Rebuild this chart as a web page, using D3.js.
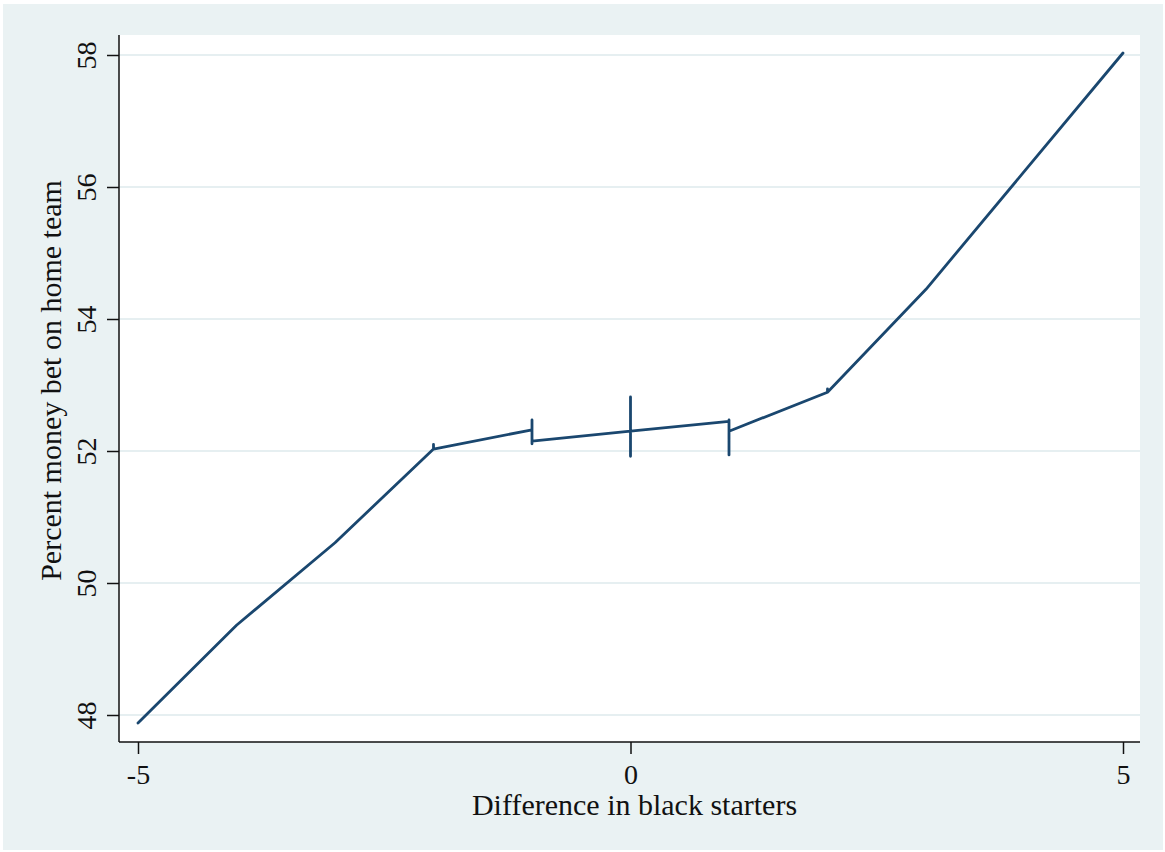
<!DOCTYPE html>
<html>
<head>
<meta charset="utf-8">
<script src="https://cdn.jsdelivr.net/npm/d3@7"></script>
<style>
  body { margin: 0; background: #fff; }
  svg { display: block; }
  text { font-family: "Liberation Serif", "DejaVu Serif", serif; fill: #111; }
</style>
</head>
<body>
<svg id="chart"></svg>
<script>
// Points in drawing order (several values at the same x give the vertical jumps)
const xValues = [-5, -4, -3, -2, -2, -2, -1, -1, -1, -1, 0, 0, 0, 0, 1, 1, 1, 1, 2, 2, 2, 3, 4, 5];
const yValues = [47.88, 49.36, 50.61, 52.03, 52.10, 52.03, 52.32, 52.47, 52.11, 52.15,
                 52.30, 52.82, 51.92, 52.30, 52.45, 52.47, 51.94, 52.30, 52.89, 52.94, 52.89,
                 54.45, 56.24, 58.03];
const xTicks = [-5, 0, 5];
const yTicks = [48, 50, 52, 54, 56, 58];
const xTitle = "Difference in black starters";
const yTitle = "Percent money bet on home team";

const width = 1165, height = 852;
const plot = { left: 119, right: 1140, top: 35, bottom: 742 };

const svg = d3.select("#chart").attr("width", width).attr("height", height);

// fond gris-bleu façon Stata s2color
svg.append("rect")
  .attr("x", 3).attr("y", 4)
  .attr("width", width - 5).attr("height", height - 6)
  .attr("fill", "#eaf2f3");

svg.append("rect")
  .attr("x", plot.left).attr("y", plot.top)
  .attr("width", plot.right - plot.left).attr("height", plot.bottom - plot.top)
  .attr("fill", "#fff");

const x = d3.scaleLinear().domain([-5, 5]).range([138, 1123]);
const y = d3.scaleLinear().domain([48, 58]).range([715, 55]);

// gridlines
svg.append("g")
  .selectAll("line")
  .data(yTicks)
  .join("line")
  .attr("x1", plot.left).attr("x2", plot.right)
  .attr("y1", d => y(d)).attr("y2", d => y(d))
  .attr("stroke", "#e6eff1")
  .attr("stroke-width", 2.2);

// axes
const yAxis = svg.append("g")
  .attr("transform", `translate(${plot.left},0)`)
  .call(d3.axisLeft(y).tickValues(yTicks).tickSize(12).tickPadding(0).tickFormat(d3.format("d")));
yAxis.select(".domain").attr("d", `M0,${plot.top}V${plot.bottom}`).attr("stroke", "#111").attr("stroke-width", 1.5);
yAxis.selectAll(".tick line").attr("stroke", "#111").attr("stroke-width", 1.5);
yAxis.selectAll(".tick text")
  .attr("x", null).attr("dy", null)
  .attr("text-anchor", "middle")
  .attr("transform", "translate(-23,0) rotate(-90)")
  .style("font-size", "28px");

const xAxis = svg.append("g")
  .attr("transform", `translate(0,${plot.bottom})`)
  .call(d3.axisBottom(x).tickValues(xTicks).tickSize(12).tickPadding(0).tickFormat(d3.format("d")));
xAxis.select(".domain").attr("d", `M${plot.left},0H${plot.right}`).attr("stroke", "#111").attr("stroke-width", 1.5);
xAxis.selectAll(".tick line").attr("stroke", "#111").attr("stroke-width", 1.5);
xAxis.selectAll(".tick text")
  .attr("y", 42).attr("dy", null)
  .text(d => d < 0 ? "-" + Math.abs(d) : d)
  .style("font-size", "28px");

// titles
svg.append("text")
  .attr("x", (plot.left + plot.right) / 2 + 5)
  .attr("y", 815)
  .attr("text-anchor", "middle")
  .style("font-size", "30px")
  .text(xTitle);

svg.append("text")
  .attr("transform", `translate(61,${(plot.top + plot.bottom) / 2 - 8}) rotate(-90)`)
  .attr("text-anchor", "middle")
  .style("font-size", "30px")
  .text(yTitle);

// line
const pts = xValues.map((v, i) => [v, yValues[i]]);
svg.append("path")
  .datum(pts)
  .attr("fill", "none")
  .attr("stroke", "#1a476f")
  .attr("stroke-width", 2.8)
  .attr("stroke-linejoin", "round")
  .attr("stroke-linecap", "round")
  .attr("d", d3.line().x(d => x(d[0])).y(d => y(d[1])));
</script>
</body>
</html>
